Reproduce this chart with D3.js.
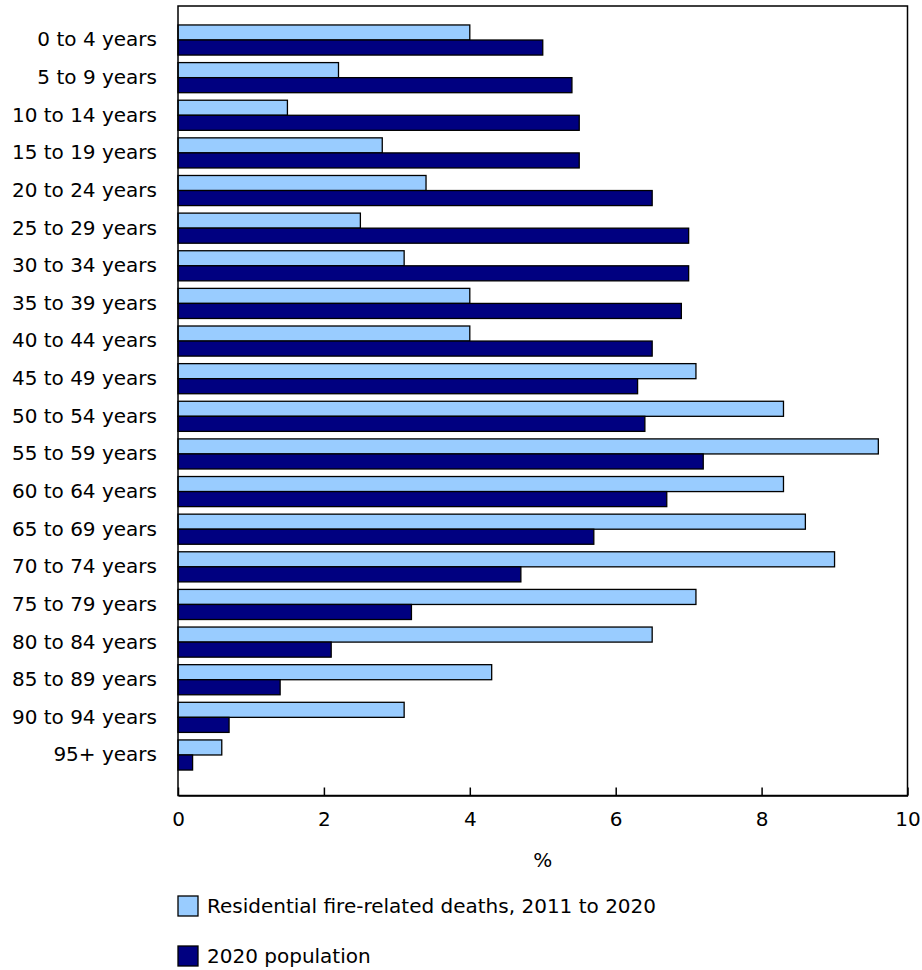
<!DOCTYPE html>
<html>
<head>
<meta charset="utf-8">
<script src="https://cdn.jsdelivr.net/npm/d3@7"></script>
<style>
  html, body { margin: 0; padding: 0; background: #fff; }
  svg { display: block; }
  text { font-family: "DejaVu Sans", Verdana, sans-serif; fill: #000; }
</style>
</head>
<body>
<svg id="chart" width="922" height="970"></svg>
<script>
const categories = ["0 to 4 years","5 to 9 years","10 to 14 years","15 to 19 years","20 to 24 years","25 to 29 years","30 to 34 years","35 to 39 years","40 to 44 years","45 to 49 years","50 to 54 years","55 to 59 years","60 to 64 years","65 to 69 years","70 to 74 years","75 to 79 years","80 to 84 years","85 to 89 years","90 to 94 years","95+ years"];
const seriesNames = ["Residential fire-related deaths, 2011 to 2020", "2020 population"];
const deaths = [4.0,2.2,1.5,2.8,3.4,2.5,3.1,4.0,4.0,7.1,8.3,9.6,8.3,8.6,9.0,7.1,6.5,4.3,3.1,0.6];
const population = [5.0,5.4,5.5,5.5,6.5,7.0,7.0,6.9,6.5,6.3,6.4,7.2,6.7,5.7,4.7,3.2,2.1,1.4,0.7,0.2];
const xTicks = [0,2,4,6,8,10];
const xTitle = "%";
const colors = ["#99CCFF", "#000080"];

(function () {
const svg = d3.select("#chart");
const pL = 178, pR = 907.5, pT = 6, pB = 795.5;
const FS = 20;

const x = d3.scaleLinear().domain([0, 10]).range([pL, pR]);
const y = d3.scaleBand().domain(categories).range([21.2, 773.8]).paddingInner(0.2).paddingOuter(0.1);
const ys = d3.scaleBand().domain(seriesNames).range([0, y.bandwidth()]);

const rows = categories.map((c, i) => ({ cat: c, vals: [deaths[i], population[i]] }));

const g = svg.append("g");
rows.forEach(r => {
  r.vals.forEach((v, j) => {
    g.append("rect")
      .attr("x", x(0))
      .attr("y", y(r.cat) + ys(seriesNames[j]))
      .attr("width", x(v) - x(0))
      .attr("height", ys.bandwidth())
      .attr("fill", colors[j])
      .attr("stroke", "#000")
      .attr("stroke-width", 1.3);
  });
});

svg.append("rect")
  .attr("x", pL).attr("y", pT)
  .attr("width", pR - pL).attr("height", pB - pT)
  .attr("fill", "none").attr("stroke", "#000").attr("stroke-width", 1.5);

const xAxis = d3.axisBottom(x).tickValues(xTicks).tickFormat(d3.format("d")).tickSizeInner(-8).tickSizeOuter(0).tickPadding(16);
const ax = svg.append("g").attr("transform", `translate(0,${pB})`).call(xAxis);
ax.select(".domain").attr("stroke", "#000").attr("stroke-width", 1.5);
ax.selectAll(".tick line").attr("stroke", "#000").attr("stroke-width", 1.5);
ax.selectAll(".tick text").attr("font-size", FS).attr("font-family", "DejaVu Sans, Verdana, sans-serif").attr("fill", "#000");

const yAxis = d3.axisLeft(y).tickSize(0).tickPadding(21);
const ay = svg.append("g").attr("transform", `translate(${pL},0)`).call(yAxis);
ay.select(".domain").remove();
ay.selectAll(".tick text").attr("font-size", FS).attr("font-family", "DejaVu Sans, Verdana, sans-serif").attr("fill", "#000");

svg.append("text").attr("x", (pL + pR) / 2).attr("y", 860).attr("dy", "0.35em")
  .attr("text-anchor", "middle").attr("font-size", FS).text(xTitle);

const lg = svg.append("g");
seriesNames.forEach((s, j) => {
  const cy = 906 + j * 50;
  lg.append("rect").attr("x", 178).attr("y", cy - 10).attr("width", 20).attr("height", 20)
    .attr("fill", colors[j]).attr("stroke", "#000").attr("stroke-width", 1.3);
  lg.append("text").attr("x", 207).attr("y", cy).attr("dy", "0.35em").attr("font-size", FS).text(s);
});
})();
</script>
</body>
</html>
